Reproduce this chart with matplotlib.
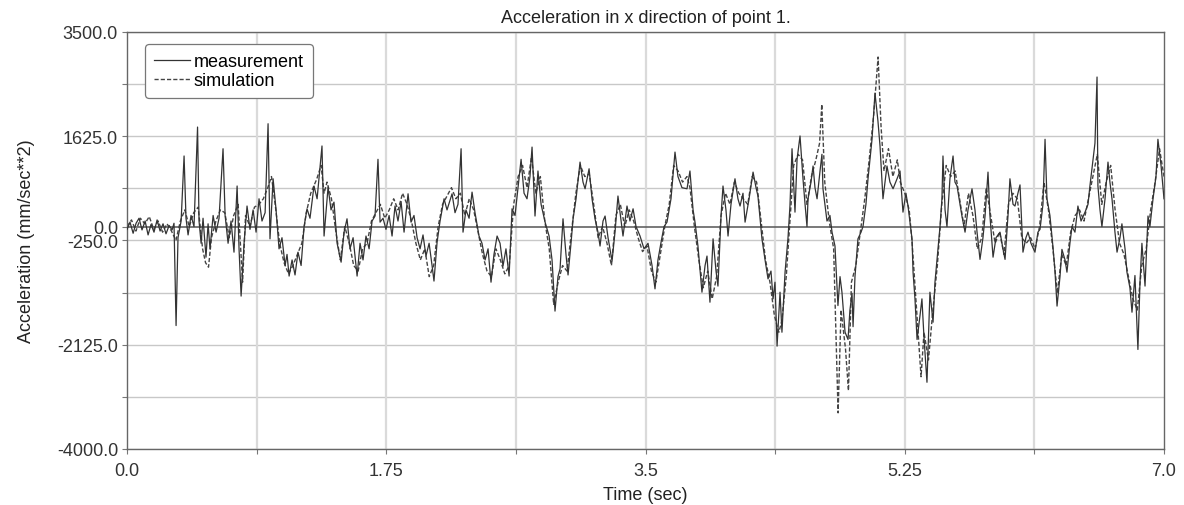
import numpy as np
import matplotlib.pyplot as plt
from matplotlib.ticker import FixedLocator, FixedFormatter

plt.rcParams['font.family'] = ['Liberation Sans', 'DejaVu Sans']

# Medicion (linea continua): tiempo en s, aceleracion en mm/s^2
t_meas = [0.000, 0.020, 0.041, 0.061, 0.081, 0.101, 0.122, 0.142, 0.162, 0.182,
          0.203, 0.223, 0.243, 0.263, 0.284, 0.304, 0.317, 0.331, 0.344, 0.365,
          0.385, 0.398, 0.412, 0.432, 0.452, 0.476, 0.486, 0.500, 0.513, 0.533,
          0.547, 0.560, 0.581, 0.601, 0.621, 0.648, 0.662, 0.682, 0.702, 0.722,
          0.743, 0.756, 0.770, 0.790, 0.810, 0.830, 0.851, 0.871, 0.891, 0.911,
          0.932, 0.952, 0.965, 0.986, 1.006, 1.026, 1.046, 1.067, 1.080, 1.094,
          1.114, 1.134, 1.154, 1.175, 1.195, 1.215, 1.235, 1.262, 1.283, 1.316,
          1.330, 1.357, 1.377, 1.397, 1.418, 1.445, 1.465, 1.485, 1.505, 1.526,
          1.553, 1.573, 1.593, 1.613, 1.634, 1.654, 1.674, 1.694, 1.708, 1.728,
          1.748, 1.769, 1.789, 1.809, 1.829, 1.850, 1.870, 1.897, 1.917, 1.937,
          1.958, 1.978, 1.998, 2.018, 2.039, 2.059, 2.072, 2.093, 2.113, 2.140,
          2.160, 2.194, 2.214, 2.234, 2.255, 2.268, 2.288, 2.309, 2.329, 2.349,
          2.376, 2.396, 2.417, 2.437, 2.457, 2.477, 2.498, 2.518, 2.538, 2.558,
          2.579, 2.599, 2.619, 2.639, 2.660, 2.680, 2.700, 2.720, 2.734, 2.754,
          2.774, 2.795, 2.822, 2.849, 2.869, 2.889, 2.909, 2.923, 2.943, 2.963,
          2.977, 2.997, 3.011, 3.031, 3.058, 3.078, 3.092, 3.119, 3.139, 3.159,
          3.179, 3.193, 3.213, 3.227, 3.247, 3.274, 3.294, 3.314, 3.335, 3.348,
          3.375, 3.395, 3.416, 3.436, 3.463, 3.490, 3.517, 3.544, 3.564, 3.584,
          3.605, 3.625, 3.645, 3.672, 3.699, 3.719, 3.746, 3.780, 3.800, 3.821,
          3.834, 3.854, 3.881, 3.902, 3.915, 3.935, 3.956, 3.976, 3.989, 4.010,
          4.023, 4.043, 4.057, 4.077, 4.104, 4.124, 4.138, 4.158, 4.172, 4.199,
          4.226, 4.246, 4.259, 4.286, 4.307, 4.327, 4.347, 4.361, 4.374, 4.388,
          4.408, 4.421, 4.442, 4.462, 4.475, 4.489, 4.509, 4.523, 4.543, 4.563,
          4.577, 4.590, 4.597, 4.617, 4.631, 4.644, 4.658, 4.678, 4.691, 4.698,
          4.725, 4.745, 4.759, 4.779, 4.799, 4.813, 4.826, 4.847, 4.867, 4.880,
          4.894, 4.901, 4.914, 4.934, 4.955, 4.968, 4.988, 5.002, 5.029, 5.049,
          5.069, 5.083, 5.103, 5.130, 5.150, 5.171, 5.198, 5.218, 5.238, 5.258,
          5.272, 5.299, 5.306, 5.319, 5.333, 5.353, 5.366, 5.380, 5.400, 5.420,
          5.441, 5.454, 5.474, 5.488, 5.501, 5.508, 5.522, 5.535, 5.555, 5.576,
          5.589, 5.603, 5.623, 5.636, 5.657, 5.677, 5.704, 5.724, 5.738, 5.758,
          5.778, 5.792, 5.812, 5.825, 5.846, 5.866, 5.893, 5.913, 5.927, 5.947,
          5.960, 5.981, 5.994, 6.014, 6.028, 6.048, 6.068, 6.082, 6.102, 6.129,
          6.149, 6.163, 6.183, 6.197, 6.210, 6.230, 6.251, 6.264, 6.278, 6.298,
          6.311, 6.332, 6.345, 6.365, 6.379, 6.399, 6.419, 6.440, 6.467, 6.487,
          6.500, 6.521, 6.534, 6.548, 6.554, 6.568, 6.581, 6.602, 6.622, 6.635,
          6.649, 6.669, 6.683, 6.703, 6.716, 6.737, 6.750, 6.770, 6.784, 6.804,
          6.824, 6.838, 6.851, 6.872, 6.892, 6.905, 6.926, 6.946, 6.959, 6.980,
          7.000]
a_meas = [-50, 80, -120, 60, 150, -60, 100, -150, 40, -100,
          120, -80, 50, -130, 20, -60, 60, -1780, -200, 100,
          1270, 150, -150, 200, 0, 1790, 100, -300, 150, -550,
          50, -400, 200, -100, 150, 1400, 200, -300, 100, -460,
          730, -400, -1250, -300, 370, -50, 300, -100, 500, 100,
          250, 1850, -220, 860, 300, -400, -200, -700, -500, -890,
          -600, -870, -460, -700, 0, 320, 150, 730, 500, 1450,
          -170, 710, 300, 440, -300, -640, -100, 140, -400, -200,
          -890, -300, -600, -170, -400, 100, 190, 1210, 80, 150,
          -50, 200, -170, 370, 100, 450, -100, 590, 80, 200,
          -200, -400, -150, -530, -300, -700, -980, -280, 100, 500,
          300, 590, 250, 400, 1400, -100, 300, 150, 620, 250,
          -170, -300, -600, -400, -1000, -500, -170, -300, -710, -400,
          -890, 320, 200, 700, 1210, 600, 500, 900, 1430, 190,
          1000, 400, 80, -170, -600, -1520, -900, -760, 140, -500,
          -870, -300, 140, 500, 1160, 800, 680, 1040, 500, 140,
          -100, -350, 100, 190, -200, -620, -100, 550, 100, -170,
          370, 100, 320, 0, -170, -400, -300, -700, -1120, -600,
          -280, 0, 80, 500, 1340, 900, 700, 680, 1000, 300,
          80, -350, -1180, -700, -530, -1360, -220, -800, -1070, 200,
          730, 300, -170, 400, 860, 500, 370, 600, 80, 500,
          980, 700, 550, -220, -600, -940, -800, -1300, -1000, -2150,
          -1180, -1900, -820, -200, 370, 1400, 260, 1210, 1630, 860,
          400, 0, 500, 800, 1090, 700, 500, 1000, 1300, 680,
          100, 200, -100, -350, -1420, -900, -1180, -1900, -2030, -1500,
          -1200, -1800, -900, -220, -100, 0, 400, 860, 1570, 2400,
          1900, 1450, 500, 1090, 800, 680, 860, 1000, 260, 600,
          370, -220, -820, -1300, -2030, -1600, -1300, -2000, -2800, -1180,
          -1720, -1000, -400, 0, 500, 1270, 300, 0, 860, 1270,
          800, 730, 400, 190, -100, 300, 680, 300, -100, -590,
          -200, 190, 980, 200, -550, -200, -100, -400, -590, 200,
          860, 400, 370, 600, 750, -460, -200, -100, -300, -460,
          -100, -50, 400, 1570, 500, 200, -380, -800, -1430, -900,
          -410, -600, -820, -300, 0, -100, 370, 100, 260, 400,
          730, 1210, 1500, 2690, 730, 300, 0, 500, 1160, 800,
          500, -100, -460, -200, 50, -400, -820, -1100, -1540, -880,
          -2210, -1000, -300, -1070, 190, 0, 500, 900, 1570, 1100,
          500]

# Simulacion (linea discontinua)
t_sim = [0.00, 0.03, 0.06, 0.09, 0.12, 0.15, 0.18, 0.21, 0.24, 0.27,
         0.30, 0.33, 0.36, 0.39, 0.42, 0.45, 0.48, 0.51, 0.53, 0.55,
         0.57, 0.60, 0.63, 0.66, 0.69, 0.72, 0.75, 0.78, 0.80, 0.83,
         0.86, 0.89, 0.92, 0.95, 0.975, 1.00, 1.03, 1.06, 1.09, 1.12,
         1.15, 1.18, 1.21, 1.24, 1.28, 1.31, 1.33, 1.35, 1.38, 1.41,
         1.44, 1.47, 1.50, 1.53, 1.56, 1.59, 1.62, 1.65, 1.68, 1.71,
         1.74, 1.77, 1.80, 1.83, 1.86, 1.89, 1.92, 1.95, 1.98, 2.01,
         2.04, 2.07, 2.10, 2.13, 2.16, 2.19, 2.22, 2.25, 2.28, 2.31,
         2.34, 2.37, 2.40, 2.43, 2.46, 2.49, 2.52, 2.55, 2.58, 2.61,
         2.64, 2.67, 2.70, 2.73, 2.76, 2.79, 2.82, 2.85, 2.88, 2.91,
         2.94, 2.97, 3.00, 3.03, 3.06, 3.09, 3.12, 3.15, 3.18, 3.21,
         3.24, 3.27, 3.30, 3.33, 3.36, 3.39, 3.42, 3.45, 3.48, 3.51,
         3.54, 3.57, 3.60, 3.63, 3.66, 3.69, 3.72, 3.75, 3.78, 3.80,
         3.83, 3.86, 3.89, 3.92, 3.95, 3.98, 4.01, 4.04, 4.07, 4.10,
         4.13, 4.16, 4.19, 4.22, 4.25, 4.28, 4.31, 4.34, 4.37, 4.40,
         4.42, 4.45, 4.48, 4.50, 4.53, 4.56, 4.59, 4.62, 4.65, 4.675,
         4.69, 4.71, 4.74, 4.77, 4.80, 4.82, 4.85, 4.87, 4.89, 4.92,
         4.95, 4.98, 5.01, 5.04, 5.07, 5.09, 5.11, 5.14, 5.17, 5.20,
         5.22, 5.25, 5.28, 5.30, 5.33, 5.36, 5.38, 5.41, 5.44, 5.47,
         5.50, 5.53, 5.56, 5.59, 5.62, 5.65, 5.68, 5.71, 5.74, 5.77,
         5.80, 5.83, 5.86, 5.89, 5.92, 5.95, 5.98, 6.01, 6.04, 6.07,
         6.10, 6.13, 6.16, 6.19, 6.22, 6.25, 6.28, 6.31, 6.34, 6.37,
         6.40, 6.43, 6.46, 6.49, 6.52, 6.55, 6.58, 6.61, 6.64, 6.67,
         6.70, 6.73, 6.76, 6.79, 6.82, 6.85, 6.88, 6.91, 6.94, 6.97,
         7.00]
a_sim = [0, 120, -80, 150, 50, 180, -50, 100, -100, 50,
         -80, -250, 100, 300, 0, 250, 350, -400, -650, -730,
         -200, 100, 300, 250, -200, 200, 400, -1000, 200, 0,
         350, 400, 500, 700, 900, 400, -300, -650, -850, -700,
         -500, -300, 250, 600, 850, 1100, 600, 800, 500, -100,
         -600, 0, -300, -700, -800, -400, -300, 100, 250, 400,
         150, 300, 500, 300, 600, 400, 100, -300, -600, -400,
         -900, -700, 0, 400, 550, 700, 500, 600, 200, 500,
         300, -100, -500, -800, -900, -400, -600, -850, -700, 400,
         900, 1100, 700, 1250, 600, 900, 100, -400, -1400, -1000,
         -700, -800, -100, 600, 1100, 900, 950, 400, -200, 0,
         -300, -700, 200, 400, 0, 300, 100, -200, -450, -350,
         -800, -1000, -500, 0, 400, 1100, 1000, 800, 900, 700,
         0, -600, -1100, -800, -1300, -900, 200, 600, 400, 800,
         600, 500, 400, 900, 800, 100, -600, -1000, -1600, -1900,
         -1700, -900, 300, 1100, 1300, 1200, 400, 900, 1200, 1500,
         2200, 800, 100, -400, -3350, -1500, -2200, -2950, -1000, -700,
         -100, 500, 1200, 2000, 3050, 1800, 1000, 1400, 900, 1200,
         800, 600, 300, -300, -1500, -2700, -1900, -2400, -1500, -700,
         400, 1100, 900, 1000, 500, 0, 600, 200, -400, -200,
         700, 200, -300, -100, -500, 400, 600, 500, -200, -300,
         -200, -400, 0, 800, 300, -400, -1200, -500, -700, -100,
         200, 300, 100, 500, 900, 1300, 400, 800, 1100, 300,
         -300, -500, -900, -1300, -1500, -700, -400, 300, 800, 1400,
         900]

major_y = [-4000.0, -2125.0, -250.0, 0.0, 1625.0, 3500.0]
y_labels = ['-4000.0', '-2125.0', '-250.0', '0.0', '1625.0', '3500.0']
minor_y = [-3062.5, -1187.5, 687.5, 2562.5]
major_x = [0.0, 1.75, 3.5, 5.25, 7.0]
x_labels = ['0.0', '1.75', '3.5', '5.25', '7.0']
minor_x = [0.875, 2.625, 4.375, 6.125]

fig = plt.figure(figsize=(11.84, 5.06), dpi=100)
ax = fig.add_axes([0.1073, 0.1107, 0.8758, 0.8241])

# rejilla
for yv in major_y + minor_y:
    if yv == 0.0:
        continue
    ax.axhline(yv, color='#c8c8c8', lw=1.0, zorder=0)
for xv in major_x[1:-1] + minor_x:
    ax.axvline(xv, color='#dadada', lw=1.6, zorder=0)
ax.axhline(0.0, color='#555555', lw=1.1, zorder=1)

ax.plot(t_sim, a_sim, color='#444444', lw=1.0, ls=(0, (3, 1.5)), label='simulation', zorder=2)
ax.plot(t_meas, a_meas, color='#333333', lw=0.9, label='measurement', zorder=3)

ax.set_xlim(0, 7)
ax.set_ylim(-4000, 3500)
ax.yaxis.set_major_locator(FixedLocator(major_y))
ax.yaxis.set_major_formatter(FixedFormatter(y_labels))
ax.yaxis.set_minor_locator(FixedLocator(minor_y))
ax.xaxis.set_major_locator(FixedLocator(major_x))
ax.xaxis.set_major_formatter(FixedFormatter(x_labels))
ax.xaxis.set_minor_locator(FixedLocator(minor_x))
ax.tick_params(which='both', length=3.5, width=0.8, color='#777777')
ax.tick_params(axis='y', labelsize=13, labelcolor='#333333', pad=3)
ax.tick_params(axis='x', labelsize=13, labelcolor='#333333', pad=6)

for sp in ax.spines.values():
    sp.set_color('#666666')
    sp.set_linewidth(1.0)

ax.set_title('Acceleration in x direction of point 1.', fontsize=13, color='#222222', pad=7)
ax.set_xlabel('Time (sec)', fontsize=13, color='#222222', labelpad=5)
ax.set_ylabel('Acceleration (mm/sec**2)', fontsize=13, color='#222222', labelpad=16)

handles, labels = ax.get_legend_handles_labels()
leg = ax.legend(handles[::-1], labels[::-1], loc='upper left', bbox_to_anchor=(0.0174, 0.971),
                fontsize=13, frameon=True, fancybox=True, framealpha=1, edgecolor='#777777',
                handlelength=2.0, handletextpad=0.2, borderpad=0.5, labelspacing=0.1,
                borderaxespad=0)
leg.get_frame().set_linewidth(0.9)

fig.savefig('out.png', dpi=100)
